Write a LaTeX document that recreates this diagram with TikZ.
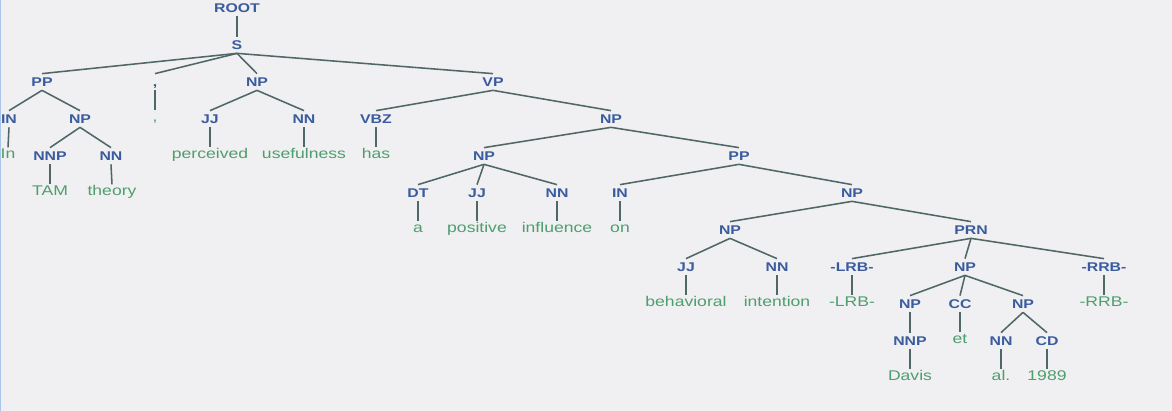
\documentclass[tikz,border=0pt]{standalone}
\usepackage{fontspec}
\setmainfont[FakeStretch=1.25]{Liberation Sans}
\usetikzlibrary{positioning}
\definecolor{tagblue}{HTML}{3A5C9E}
\definecolor{wordgreen}{HTML}{4E9E6E}
\definecolor{branch}{HTML}{4F6767}
\definecolor{paper}{HTML}{F0EFF1}
\definecolor{frame}{HTML}{A9C6E8}
\tikzset{
  tag/.style={
    inner xsep = 1pt,
    inner ysep = 2.5pt,
    text height = 6.5pt,
    text depth = 0pt,
    text = tagblue,
    font = \fontsize{9}{10}\selectfont\bfseries
  },
  word/.style={
    inner xsep = 1pt,
    inner ysep = 2pt,
    text height = 6pt,
    text depth = 2pt,
    text = wordgreen,
    font = \fontsize{10}{12}\selectfont
  },
  branch/.style={
    draw = branch,
    line width = 1.1pt
  },
}
\begin{document}
\begin{tikzpicture}[x=0.025cm,y=-0.025cm]
\fill[paper] (0,0) rectangle (1172,411);
\useasboundingbox (0,0) rectangle (1172,411);
\draw[frame,line width=0.8pt] (0.4,0) -- (0.4,411);
% phrase and POS tags
\node[tag] (root) at (237,8) {ROOT};
\node[tag] (s) at (237,45) {S};
\node[tag] (pp) at (42,82) {PP};
\node[tag] (comma) at (155,82) {,};
\node[tag] (np1) at (257,82) {NP};
\node[tag] (vp) at (493,82) {VP};
\node[tag] (in1) at (9,119) {IN};
\node[tag] (np2) at (80,119) {NP};
\node[tag] (jj1) at (210,119) {JJ};
\node[tag] (nn1) at (304,119) {NN};
\node[tag] (vbz) at (376,119) {VBZ};
\node[tag] (np3) at (611,119) {NP};
\node[tag] (nnp1) at (50,156) {NNP};
\node[tag] (nn2) at (111,156) {NN};
\node[tag] (np4) at (484,156) {NP};
\node[tag] (pp2) at (739,156) {PP};
\node[tag] (dt) at (418,193) {DT};
\node[tag] (jj2) at (477,193) {JJ};
\node[tag] (nn3) at (557,193) {NN};
\node[tag] (in2) at (620,193) {IN};
\node[tag] (np5) at (852,193) {NP};
\node[tag] (np6) at (730,230) {NP};
\node[tag] (prn) at (971,230) {PRN};
\node[tag] (jj3) at (686,267) {JJ};
\node[tag] (nn4) at (777,267) {NN};
\node[tag] (lrb) at (852,267) {-LRB-};
\node[tag] (np7) at (965,267) {NP};
\node[tag] (rrb) at (1104,267) {-RRB-};
\node[tag] (np8) at (910,304) {NP};
\node[tag] (cc) at (960,304) {CC};
\node[tag] (np9) at (1023,304) {NP};
\node[tag] (nnp2) at (910,341) {NNP};
\node[tag] (nn5) at (1001,341) {NN};
\node[tag] (cd) at (1047,341) {CD};
% words
\node[word] (wcomma) at (155,119) {,};
\node[word] (wIn) at (8,156) {In};
\node[word] (wperceived) at (210,156) {perceived};
\node[word] (wusefulness) at (304,156) {usefulness};
\node[word] (whas) at (376,156) {has};
\node[word] (wTAM) at (50,193) {TAM};
\node[word] (wtheory) at (112,193) {theory};
\node[word] (wa) at (418,230) {a};
\node[word] (wpositive) at (477,230) {positive};
\node[word] (winfluence) at (557,230) {influence};
\node[word] (won) at (620,230) {on};
\node[word] (wbehavioral) at (686,304) {behavioral};
\node[word] (wintention) at (777,304) {intention};
\node[word] (wlrb) at (852,304) {-LRB-};
\node[word] (wrrb) at (1104,304) {-RRB-};
\node[word] (wet) at (960,341) {et};
\node[word] (wDavis) at (910,378) {Davis};
\node[word] (wal) at (1001,378) {al.};
\node[word] (wyear) at (1047,378) {1989};
% branches
\foreach \a/\b in {root/s, s/pp, s/comma, s/np1, s/vp,
  pp/in1, pp/np2, in1/wIn, np2/nnp1, np2/nn2, nnp1/wTAM, nn2/wtheory,
  comma/wcomma, np1/jj1, np1/nn1, jj1/wperceived, nn1/wusefulness,
  vp/vbz, vp/np3, vbz/whas, np3/np4, np3/pp2,
  np4/dt, np4/jj2, np4/nn3, dt/wa, jj2/wpositive, nn3/winfluence,
  pp2/in2, pp2/np5, in2/won, np5/np6, np5/prn,
  np6/jj3, np6/nn4, jj3/wbehavioral, nn4/wintention,
  prn/lrb, prn/np7, prn/rrb, lrb/wlrb, rrb/wrrb,
  np7/np8, np7/cc, np7/np9, np8/nnp2, nnp2/wDavis, cc/wet,
  np9/nn5, np9/cd, nn5/wal, cd/wyear}{
  \draw[branch] (\a.south) -- (\b.north);
}
\end{tikzpicture}
\end{document}
